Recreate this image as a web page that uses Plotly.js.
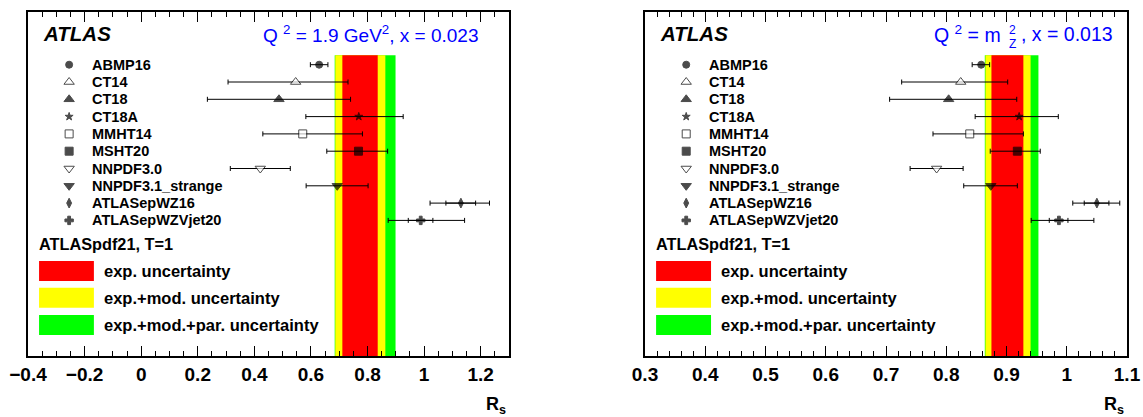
<!DOCTYPE html>
<html>
<head>
<meta charset="utf-8">
<script src="https://cdn.plot.ly/plotly-3.0.1.min.js"></script>
<style>
html, body { margin: 0; padding: 0; background: #ffffff; }
#chart { width: 1143px; height: 417px; }
</style>
</head>
<body>
<div id="chart"></div>
<script>
// ---------------- data ----------------
const pdfSets = ['ABMP16', 'CT14', 'CT18', 'CT18A', 'MMHT14', 'MSHT20', 'NNPDF3.0', 'NNPDF3.1_strange', 'ATLASepWZ16', 'ATLASepWZVjet20'];
const markerSymbols = ['circle', 'triangle-up', 'triangle-up', 'star', 'square', 'square', 'triangle-down', 'triangle-down', 'diamond-tall', 'cross'];
const markerFilled = [true, false, true, true, false, true, false, true, true, true];
const markerSizes = [7, 9, 9, 6, 8, 8, 9, 9, 7, 7];

// Panel 1: Q^2 = 1.9 GeV^2, x = 0.023
const rsLowQ = [0.629, 0.546, 0.487, 0.769, 0.571, 0.768, 0.421, 0.693, 1.130, 0.988];
const errPlusLowQ = [0.031, 0.185, 0.253, 0.157, 0.211, 0.103, 0.106, 0.109, 0.101, 0.155];
const errMinusLowQ = [0.031, 0.239, 0.253, 0.187, 0.141, 0.112, 0.106, 0.110, 0.109, 0.115];
const innerSets = ['ATLASepWZ16', 'ATLASepWZVjet20'];
const innerRsLowQ = [1.130, 0.988];
const innerPlusLowQ = [0.052, 0.043];
const innerMinusLowQ = [0.053, 0.044];
const expBandLowQ = [0.711, 0.836];
const modBandLowQ = [0.686, 0.863];
const parBandLowQ = [0.684, 0.899];

// Panel 2: Q^2 = m_Z^2, x = 0.013
const rsHighQ = [0.858, 0.824, 0.804, 0.921, 0.839, 0.918, 0.784, 0.874, 1.050, 0.987];
const errPlusHighQ = [0.014, 0.078, 0.113, 0.065, 0.089, 0.038, 0.044, 0.044, 0.038, 0.058];
const errMinusHighQ = [0.015, 0.098, 0.098, 0.073, 0.061, 0.045, 0.044, 0.045, 0.040, 0.046];
const innerRsHighQ = [1.050, 0.987];
const innerPlusHighQ = [0.020, 0.015];
const innerMinusHighQ = [0.021, 0.016];
const expBandHighQ = [0.875, 0.928];
const modBandHighQ = [0.865, 0.940];
const parBandHighQ = [0.864, 0.953];

const bandLabels = ['exp. uncertainty', 'exp.+mod. uncertainty', 'exp.+mod.+par. uncertainty'];
const bandColors = ['#ff0000', '#ffff00', '#00ff00'];

// ---------------- helpers ----------------
const FONT = 'Liberation Sans, Arial, Helvetica, sans-serif';
const BLUE = '#0000ff';

function buildPanel(ax, xRange, rs, ePlus, eMinus, innerRs, inPlus, inMinus, expBand, modBand, parBand) {
  const xa = 'x' + (ax === 1 ? '' : ax), ya = 'y' + (ax === 1 ? '' : ax);
  const colors = markerFilled.map(f => f ? '#000000' : '#ffffff');
  const traces = [];
  traces.push({
    type: 'scatter', mode: 'markers', xaxis: xa, yaxis: ya,
    x: rs, y: pdfSets,
    marker: { symbol: markerSymbols, size: markerSizes, color: colors, line: { color: '#000000', width: 1 } },
    error_x: { type: 'data', symmetric: false, array: ePlus, arrayminus: eMinus, color: '#000000', thickness: 1, width: 2.5 },
    hoverinfo: 'skip'
  });
  traces.push({
    type: 'scatter', mode: 'markers', xaxis: xa, yaxis: ya,
    x: innerRs, y: innerSets,
    marker: { size: 1, color: 'rgba(0,0,0,0)' },
    error_x: { type: 'data', symmetric: false, array: inPlus, arrayminus: inMinus, color: '#000000', thickness: 1, width: 2.5 },
    hoverinfo: 'skip'
  });
  // key markers at left of the panel
  const keyX = xRange[0] + 0.0855 * (xRange[1] - xRange[0]);
  traces.push({
    type: 'scatter', mode: 'markers', xaxis: xa, yaxis: ya,
    x: pdfSets.map(() => keyX), y: pdfSets,
    marker: { symbol: markerSymbols, size: markerSizes, color: colors, line: { color: '#000000', width: 1 } },
    hoverinfo: 'skip'
  });

  const shapes = [];
  const bands = [parBand, modBand, expBand];
  const bcol = ['#00ff00', '#ffff00', '#ff0000'];
  bands.forEach((b, i) => {
    shapes.push({ type: 'rect', layer: 'below', xref: xa, yref: ya + ' domain', x0: b[0], x1: b[1], y0: 0, y1: 0.874,
      fillcolor: bcol[i], line: { width: 0 } });
  });
  // legend boxes
  const boxY = [[0.218, 0.276], [0.1404, 0.1985], [0.061, 0.119]];
  boxY.forEach((yy, i) => {
    shapes.push({ type: 'rect', xref: xa + ' domain', yref: ya + ' domain', x0: 0.023, x1: 0.137, y0: yy[0], y1: yy[1],
      fillcolor: bandColors[i], line: { width: 0 } });
  });

  const ann = [];
  ann.push({ xref: xa + ' domain', yref: ya + ' domain', x: 0.026, y: 0.937, xanchor: 'left', yanchor: 'middle',
    text: '<b><i>ATLAS</i></b>', showarrow: false, font: { family: FONT, size: 20.5, color: '#000' } });
  pdfSets.forEach((n) => {
    ann.push({ xref: xa + ' domain', yref: ya, x: 0.129, y: n, xanchor: 'left', yanchor: 'middle',
      text: '<b>' + n + '</b>', showarrow: false, font: { family: FONT, size: 14.5, color: '#000' } });
  });
  ann.push({ xref: xa + ' domain', yref: ya + ' domain', x: 0.018, y: 0.325, xanchor: 'left', yanchor: 'middle',
    text: '<b>ATLASpdf21, T=1</b>', showarrow: false, font: { family: FONT, size: 16.3, color: '#000' } });
  boxY.forEach((yy, i) => {
    ann.push({ xref: xa + ' domain', yref: ya + ' domain', x: 0.154, y: (yy[0] + yy[1]) / 2, xanchor: 'left', yanchor: 'middle',
      text: '<b>' + bandLabels[i] + '</b>', showarrow: false, font: { family: FONT, size: 16.5, color: '#000' } });
  });
  ann.push({ xref: xa + ' domain', yref: ya + ' domain', x: 0.998, y: -0.145, xanchor: 'right', yanchor: 'middle',
    text: '<b>R<sub>s</sub></b>', showarrow: false, font: { family: FONT, size: 18, color: '#000' } });
  return { traces, shapes, ann };
}

const p1 = buildPanel(1, [-0.4, 1.3], rsLowQ, errPlusLowQ, errMinusLowQ, innerRsLowQ, innerPlusLowQ, innerMinusLowQ, expBandLowQ, modBandLowQ, parBandLowQ);
const p2 = buildPanel(2, [0.3, 1.1], rsHighQ, errPlusHighQ, errMinusHighQ, innerRsHighQ, innerPlusHighQ, innerMinusHighQ, expBandHighQ, modBandHighQ, parBandHighQ);

// titles (blue)
const titleAnn = [
  { xref: 'x domain', yref: 'y domain', x: 0.9418, y: 0.937, xanchor: 'right', yanchor: 'middle',
    text: 'Q <sup>2</sup> = 1.9 GeV<sup>2</sup>, x = 0.023', showarrow: false, font: { family: FONT, size: 19, color: BLUE } },
  { xref: 'x2 domain', yref: 'y2 domain', x: 0.5954, y: 0.937, xanchor: 'left', yanchor: 'middle',
    text: 'Q <sup>2</sup> = m', showarrow: false, font: { family: FONT, size: 19.5, color: BLUE } },
  { xref: 'x2 domain', yref: 'y2 domain', x: 0.752, y: 0.948, xanchor: 'left', yanchor: 'middle',
    text: '2', showarrow: false, font: { family: FONT, size: 12, color: BLUE } },
  { xref: 'x2 domain', yref: 'y2 domain', x: 0.752, y: 0.906, xanchor: 'left', yanchor: 'middle',
    text: 'Z', showarrow: false, font: { family: FONT, size: 12, color: BLUE } },
  { xref: 'x2 domain', yref: 'y2 domain', x: 0.9761, y: 0.937, xanchor: 'right', yanchor: 'middle',
    text: ', x = 0.013', showarrow: false, font: { family: FONT, size: 19.5, color: BLUE } }
];

function xAxis(domain, range, dtick, minorDtick, anchor) {
  return {
    domain, range, anchor, type: 'linear',
    tickmode: 'linear', tick0: range[0], dtick,
    ticks: 'inside', ticklen: 10, tickwidth: 1, tickcolor: '#000',
    minor: { dtick: minorDtick, tick0: range[0], ticks: 'inside', ticklen: 5, tickwidth: 1, tickcolor: '#000', showgrid: false },
    showline: true, linecolor: '#000', linewidth: 2, mirror: 'ticks',
    showgrid: false, zeroline: false,
    tickfont: { family: FONT, size: 19, color: '#000', weight: 'bold' },
    fixedrange: true
  };
}
function yAxis(anchor) {
  return {
    anchor, domain: [0, 1], type: 'category', categoryarray: pdfSets, categoryorder: 'array',
    range: [16.838, -3.046],
    showline: true, linecolor: '#000', linewidth: 2, mirror: true,
    ticks: '', showticklabels: false, showgrid: false, zeroline: false, fixedrange: true
  };
}

const layout = {
  width: 1143, height: 417,
  margin: { l: 28, r: 16, t: 12, b: 61 },
  paper_bgcolor: '#ffffff', plot_bgcolor: '#ffffff',
  showlegend: false,
  xaxis: xAxis([0, 0.43767], [-0.4, 1.3], 0.2, 0.05, 'y'),
  yaxis: yAxis('x'),
  xaxis2: xAxis([0.56142, 1], [0.3, 1.1], 0.1, 0.02, 'y2'),
  yaxis2: yAxis('x2'),
  shapes: p1.shapes.concat(p2.shapes),
  annotations: p1.ann.concat(p2.ann, titleAnn)
};

Plotly.newPlot('chart', p1.traces.concat(p2.traces), layout, { displayModeBar: false, staticPlot: true });
</script>
</body>
</html>
